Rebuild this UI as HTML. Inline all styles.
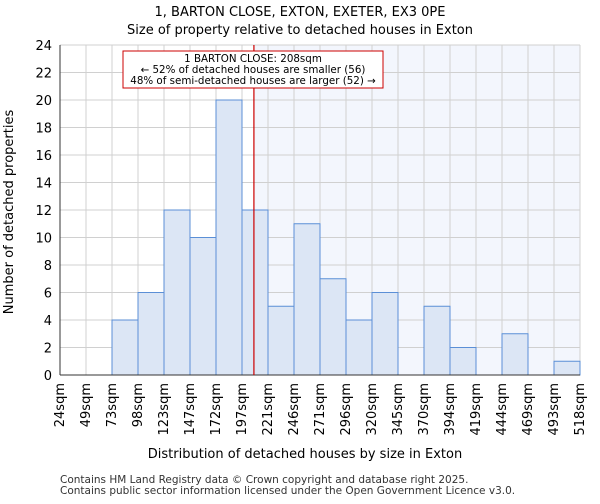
<!DOCTYPE html>
<html><head><meta charset="utf-8"><style>
body{margin:0;background:#fff;font-family:"DejaVu Sans","Liberation Sans",sans-serif;}
</style></head><body>
<svg id="c" width="600" height="500" xmlns="http://www.w3.org/2000/svg" font-family="DejaVu Sans, Liberation Sans, sans-serif">
<text x="300" y="16" text-anchor="middle" font-size="13">1, BARTON CLOSE, EXTON, EXETER, EX3 0PE</text>
<text x="300" y="34" text-anchor="middle" font-size="13">Size of property relative to detached houses in Exton</text>
<g id="plot"></g>
<text x="305" y="458" text-anchor="middle" font-size="13">Distribution of detached houses by size in Exton</text>
<text transform="translate(13,212) rotate(-90)" text-anchor="middle" font-size="13">Number of detached properties</text>
<text x="60" y="483" font-size="10.5" fill="#333">Contains HM Land Registry data © Crown copyright and database right 2025.</text>
<text x="60" y="494" font-size="10.5" fill="#333">Contains public sector information licensed under the Open Government Licence v3.0.</text>
</svg>
<script>
const edges=[24,49,73,98,123,147,172,197,221,246,271,296,320,345,370,394,419,444,469,493,518];
const counts=[0,0,4,6,12,10,20,12,5,11,7,4,6,0,5,2,0,3,0,1];
const yTicks=[0,2,4,6,8,10,12,14,16,18,20,22,24];
const propertySize=208;
const L=60,R=580,T=45,B=375,yMax=24;
const NS="http://www.w3.org/2000/svg";
const g=document.getElementById('plot');
const bw=(R-L)/counts.length;
const xi=i=>L+i*bw;
const xv=v=>{for(let i=0;i<edges.length-1;i++){if(v<=edges[i+1])return xi(i)+bw*(v-edges[i])/(edges[i+1]-edges[i]);}return R;};
const y=v=>B-(B-T)*v/yMax;
function el(t,a){const e=document.createElementNS(NS,t);for(const k in a)e.setAttribute(k,a[k]);g.appendChild(e);return e;}
const px=xv(propertySize);
let e=el('rect',{x:px,y:T,width:R-px,height:B-T,fill:'#f3f6fd'});


for(let i=0;i<=counts.length;i++){e=el('line',{x1:xi(i),x2:xi(i),y1:T,y2:B,stroke:'#d0d0d0','stroke-width':1});

}
yTicks.forEach(t=>{e=el('line',{x1:L,x2:R,y1:y(t),y2:y(t),stroke:'#d0d0d0','stroke-width':1});


e=el('text',{x:L-8,y:y(t)+5,'text-anchor':'end','font-size':13});e.textContent=t;

});
counts.forEach((c,i)=>{if(c<=0)return;e=el('rect',{x:xi(i),y:y(c),width:bw,height:B-y(c),fill:'#dce6f5',stroke:'#5b8fd6','stroke-width':1});

});
edges.forEach((v,i)=>{const x=xi(i);e=el('text',{transform:`translate(${x+4},${B+8}) rotate(-90)`,'text-anchor':'end','font-size':13});e.textContent=v+'sqm';

});
e=el('line',{x1:L,x2:L,y1:T,y2:B,stroke:'#333'});


e=el('line',{x1:L,x2:R,y1:B,y2:B,stroke:'#333'});


e=el('line',{x1:px,x2:px,y1:T,y2:B,stroke:'#cc0000','stroke-width':1.2});


e=el('rect',{x:123,y:51,width:260,height:37,fill:'#fff',stroke:'#cc0000','stroke-width':1});


['1 BARTON CLOSE: 208sqm','← 52% of detached houses are smaller (56)','48% of semi-detached houses are larger (52) →'].forEach((s,i)=>{e=el('text',{x:253,y:62+i*11,'text-anchor':'middle','font-size':10.3});e.textContent=s;

});
</script>
</body></html>
